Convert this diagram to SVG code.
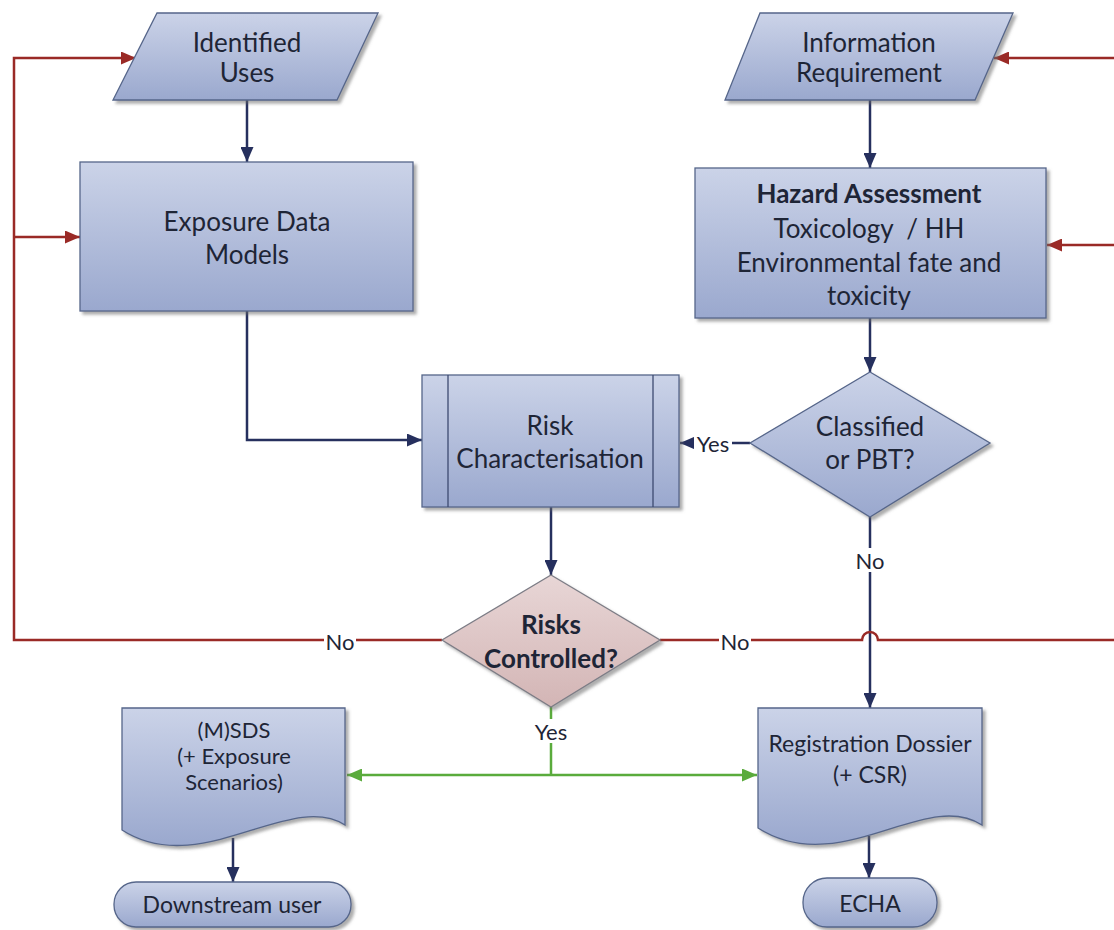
<svg xmlns="http://www.w3.org/2000/svg" width="1114" height="930" viewBox="0 0 1114 930">
<defs>
<linearGradient id="gBlue" x1="0" y1="0" x2="0" y2="1">
<stop offset="0" stop-color="#cbd3e8"/>
<stop offset="1" stop-color="#9aa8ce"/>
</linearGradient>
<linearGradient id="gPink" x1="0" y1="0" x2="0" y2="1">
<stop offset="0" stop-color="#e8d6d6"/>
<stop offset="1" stop-color="#d3b5b5"/>
</linearGradient>
<filter id="sh" x="-10%" y="-10%" width="130%" height="130%">
<feDropShadow dx="3" dy="3" stdDeviation="1.5" flood-color="#6b6b6b" flood-opacity="0.55"/>
</filter>
<marker id="aN" viewBox="0 0 15 13" refX="15" refY="6.5" markerWidth="15" markerHeight="13" markerUnits="userSpaceOnUse" orient="auto">
<path d="M0,0 L15,6.5 L0,13 Z" fill="#26305e"/>
</marker>
<marker id="aR" viewBox="0 0 15 13" refX="15" refY="6.5" markerWidth="15" markerHeight="13" markerUnits="userSpaceOnUse" orient="auto">
<path d="M0,0 L15,6.5 L0,13 Z" fill="#9a2a26"/>
</marker>
<marker id="aG" viewBox="0 0 15 13" refX="15" refY="6.5" markerWidth="15" markerHeight="13" markerUnits="userSpaceOnUse" orient="auto">
<path d="M0,0 L15,6.5 L0,13 Z" fill="#5aab3c"/>
</marker>
</defs>
<style>
.box{fill:url(#gBlue);stroke:#56668a;stroke-width:1.3;filter:url(#sh)}
.pink{fill:url(#gPink);stroke:#7d7d86;stroke-width:1.3;filter:url(#sh)}
.in{stroke:#3d4a70;stroke-width:1.3;fill:none}
text{font-family:Lato,"Open Sans","Liberation Sans",sans-serif;fill:#1e2536;text-anchor:middle;dominant-baseline:central}
.t{font-size:26px}
.s{font-size:23px}
.m{font-size:22px}
.b{font-weight:bold}
.l{font-size:22px}
.pre{white-space:pre}
.nv{stroke:#26305e;stroke-width:2.5;fill:none}
.rd{stroke:#9a2a26;stroke-width:2.5;fill:none}
.gr{stroke:#5aab3c;stroke-width:2.5;fill:none}
.bg{fill:#ffffff}
</style>
<rect width="1114" height="930" fill="#ffffff"/>

<g id="connectors">
<path class="nv" d="M247,100 V162" marker-end="url(#aN)"/>
<path class="nv" d="M870,100 V168" marker-end="url(#aN)"/>
<path class="nv" d="M247,311 V440 H422" marker-end="url(#aN)"/>
<path class="nv" d="M870,318 V372" marker-end="url(#aN)"/>
<path class="nv" d="M750,443 H680" marker-end="url(#aN)"/>
<path class="nv" d="M870,517 V708" marker-end="url(#aN)"/>
<path class="nv" d="M551,507 V575" marker-end="url(#aN)"/>
<path class="nv" d="M233,838 V882" marker-end="url(#aN)"/>
<path class="nv" d="M869,836 V878" marker-end="url(#aN)"/>
<path class="rd" d="M442,640 H14 V58 H136" marker-end="url(#aR)"/>
<path class="rd" d="M14,237 H80" marker-end="url(#aR)"/>
<path class="rd" d="M660,640 H862 A8,8 0 0 1 878,640 H1114"/>
<path class="rd" d="M1114,58 H994" marker-end="url(#aR)"/>
<path class="rd" d="M1114,245 H1047" marker-end="url(#aR)"/>
<path class="gr" d="M551,707 V775"/>
<path class="gr" d="M551,775 H347" marker-end="url(#aG)"/>
<path class="gr" d="M551,775 H757" marker-end="url(#aG)"/>
<rect class="bg" x="694" y="431" width="38" height="24"/>
<text class="l" x="713" y="443">Yes</text>
<rect class="bg" x="854" y="548" width="32" height="24"/>
<text class="l" x="870" y="560">No</text>
<rect class="bg" x="324" y="629" width="32" height="24"/>
<text class="l" x="340" y="641">No</text>
<rect class="bg" x="719" y="629" width="32" height="24"/>
<text class="l" x="735" y="641">No</text>
<rect class="bg" x="532" y="719" width="38" height="24"/>
<text class="l" x="551" y="731">Yes</text>
</g>

<g id="identified-uses">
<polygon class="box" points="157,13 378,13 337,100 113,100"/>
<text class="t" x="247" y="42">Identified</text>
<text class="t" x="247" y="72">Uses</text>
</g>

<g id="information-requirement">
<polygon class="box" points="760,13 1013,13 975,100 725,100"/>
<text class="t" x="869" y="42">Information</text>
<text class="t" x="869" y="72">Requirement</text>
</g>

<g id="exposure-data-models">
<rect class="box" x="80" y="162" width="333" height="149"/>
<text class="t" x="247" y="221">Exposure Data</text>
<text class="t" x="247" y="254">Models</text>
</g>

<g id="hazard-assessment">
<rect class="box" x="695" y="168" width="351" height="150"/>
<text class="t b" x="869" y="193">Hazard Assessment</text>
<text class="t pre" x="869" y="228">Toxicology  / HH</text>
<text class="t" x="869" y="262">Environmental fate and</text>
<text class="t" x="869" y="295">toxicity</text>
</g>

<g id="risk-characterisation">
<rect class="box" x="422" y="375" width="257" height="132"/>
<line class="in" x1="448" y1="375" x2="448" y2="507"/>
<line class="in" x1="653" y1="375" x2="653" y2="507"/>
<text class="t" x="550" y="425">Risk</text>
<text class="t" x="550" y="458">Characterisation</text>
</g>

<g id="classified-or-pbt">
<polygon class="box" points="870,372 990,443 870,517 750,443"/>
<text class="t" x="870" y="426">Classified</text>
<text class="t" x="870" y="459">or PBT?</text>
</g>

<g id="risks-controlled">
<polygon class="pink" points="551,575 660,640 551,707 442,640"/>
<text class="t b" x="551" y="624">Risks</text>
<text class="t b" x="551" y="658">Controlled?</text>
</g>

<g id="msds">
<path class="box" d="M122,708 H345 V825 C290,790 200,880 122,830 Z"/>
<text class="m" x="234" y="729">(M)SDS</text>
<text class="m" x="234" y="755">(+ Exposure</text>
<text class="m" x="234" y="781">Scenarios)</text>
</g>

<g id="registration-dossier">
<path class="box" d="M758,708 H982 V825 C925,788 840,880 758,828 Z"/>
<text class="s" x="870" y="743">Registration Dossier</text>
<text class="s" x="870" y="774">(+ CSR)</text>
</g>

<g id="downstream-user">
<rect class="box" x="114" y="882" width="237" height="45" rx="22"/>
<text class="s" x="232" y="904">Downstream user</text>
</g>

<g id="echa">
<rect class="box" x="803" y="878" width="134" height="49" rx="24"/>
<text class="s" x="870" y="903">ECHA</text>
</g>
</svg>
